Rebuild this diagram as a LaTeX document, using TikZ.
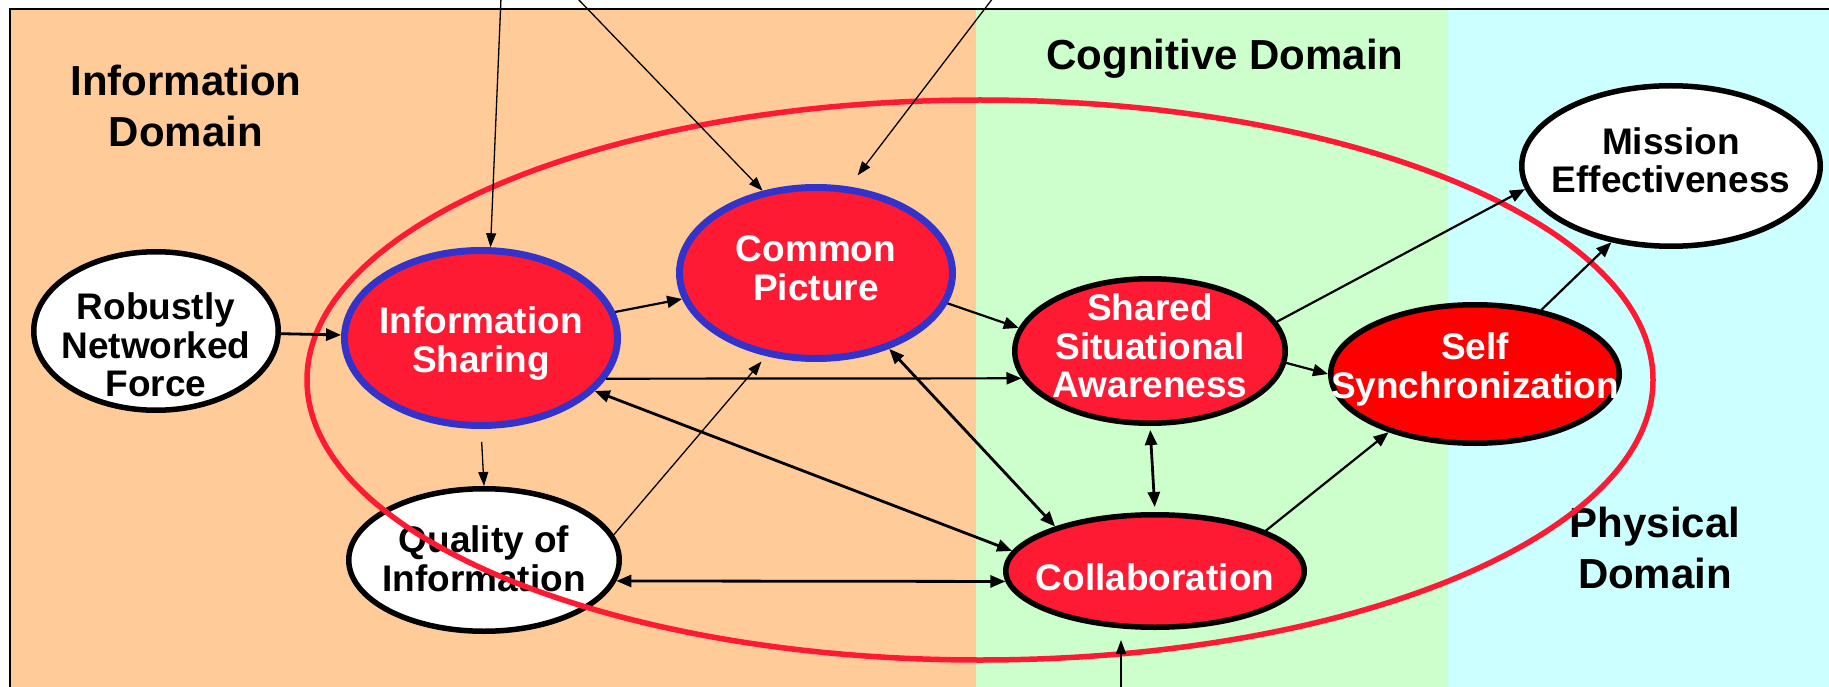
\documentclass[tikz,border=0pt]{standalone}
\usepackage{fontspec}
\setmainfont{Liberation Sans}
\usetikzlibrary{shapes.geometric, arrows.meta}

\definecolor{infoorange}{RGB}{255,204,153}
\definecolor{cogngreen}{RGB}{204,255,204}
\definecolor{physcyan}{RGB}{204,255,255}
\definecolor{nodered}{RGB}{255,26,51}
\definecolor{syncred}{RGB}{255,0,0}
\definecolor{ringblue}{RGB}{51,51,204}

% text of a node, kept out of the ellipse size: #1 = raise of last baseline
\newcommand{\nodetext}[2]{\raisebox{#1}[0pt][0pt]{\makebox[0pt]{\begin{tabular}[b]{@{}c@{}}#2\end{tabular}}}}

\tikzstyle{plainnode} = [ellipse, inner sep=0pt, draw=black, line width=5.5pt, fill=white, font=\bfseries\fontsize{37}{38}\selectfont]
\tikzstyle{corenode} = [ellipse, inner sep=0pt, draw=ringblue, line width=7pt, fill=nodered, text=white, font=\bfseries\fontsize{37}{38}\selectfont]
\tikzstyle{effectnode} = [ellipse, inner sep=0pt, draw=black, line width=5.5pt, fill=nodered, text=white, font=\bfseries\fontsize{37}{38}\selectfont]
\tikzstyle{domainlabel} = [align=center, inner sep=0pt, font=\bfseries\fontsize{42}{51}\selectfont]
\tikzstyle{redring} = [draw=nodered, line width=5.5pt]
\tikzstyle{arrow} = [line width=2.2pt,-{Triangle[length=15pt,width=12pt]}]
\tikzstyle{twoway} = [line width=2.8pt,{Triangle[length=15pt,width=12pt]}-{Triangle[length=15pt,width=12pt]}]
\tikzstyle{thinarrow} = [line width=1.3pt,-{Triangle[length=14pt,width=10pt]}]

\begin{document}
\begin{tikzpicture}[x=1pt, y=-1pt]
\useasboundingbox (0,0) rectangle (1829,687);

% Domains
\fill[infoorange] (10,9) rectangle (976,687);
\fill[cogngreen] (976,9) rectangle (1448,687);
\fill[physcyan] (1448,9) rectangle (1829,687);
\draw[line width=2pt] (10,687) -- (10,9) -- (1829,9);

\node (infodom) [domainlabel] at (186,106) {Information\\Domain};
\node (cogdom) [domainlabel, anchor=base] at (1225,70) {Cognitive Domain};
\node (physdom) [domainlabel] at (1655,548) {Physical\\Domain};

% Nodes
\node (robust) [plainnode, minimum width=244.5pt, minimum height=158.5pt] at (156,331) {\nodetext{-65pt}{Robustly\\Networked\\Force}};
\node (infoshare) [corenode, minimum width=273pt, minimum height=175pt] at (481,338) {\nodetext{-34pt}{Information\\Sharing}};
\node (common) [corenode, minimum width=273pt, minimum height=171pt] at (816,273) {\nodetext{-27pt}{Common\\Picture}};
\node (quality) [plainnode, minimum width=270.5pt, minimum height=142.5pt] at (484,560) {\nodetext{-31pt}{Quality of\\Information}};
\node (ssa) [effectnode, minimum width=270.5pt, minimum height=144.5pt] at (1150,351) {\nodetext{-46pt}{Shared\\Situational\\Awareness}};
\node (collab) [effectnode, minimum width=298.5pt, minimum height=112.5pt] at (1155,571) {\nodetext{-19pt}{Collaboration}};
\node (selfsync) [effectnode, fill=syncred, minimum width=288.5pt, minimum height=138.5pt] at (1475,374) {\nodetext{-24pt}{Self\\Synchronization}};
\node (mission) [plainnode, minimum width=298.5pt, minimum height=160.5pt] at (1671,166) {\nodetext{-27pt}{Mission\\Effectiveness}};

\draw[redring] (980,380) ellipse (673 and 280);

\coordinate (toplink1) at (501,-2);
\coordinate (toplink2) at (577,-2);
\coordinate (toplink3) at (993,-2);
\coordinate (botlink) at (1121,690);

% Arrows
\draw [twoway, -{Triangle[length=15pt,width=12pt]}] (robust) -- (infoshare);
\draw [arrow] (infoshare) -- (common);
\draw [arrow] (infoshare.-18) -- (ssa.192);
\draw [arrow] (common.-13) -- (ssa.170);
\draw [twoway] (infoshare.-25) -- (collab.172);
\draw [twoway] (common.-46) -- (collab.156);
\draw [thinarrow, shorten <=13pt] (infoshare.south) -- (quality.north);
\draw [thinarrow, shorten >=7pt] (quality.11) -- (common.239);
\draw [twoway] (quality.-9.5) -- (collab.184);
\draw [arrow] (ssa.-5) -- (selfsync.180);
\draw [twoway, shorten <=4pt, shorten >=5pt] (ssa.south) -- (collab.north);
\draw [arrow] (collab.20) -- (selfsync.214);
\draw [arrow] (ssa.13) -- (mission.189);
\draw [arrow] (selfsync.44) -- (mission.232);

\draw [thinarrow] (toplink1) -- (infoshare.84);
\draw [thinarrow] (toplink2) -- (common.123);
\draw [thinarrow, shorten >=14pt] (toplink3) -- (common.69);
\draw [thinarrow, shorten >=10pt] (botlink) -- (botlink |- collab.south);

\end{tikzpicture}
\end{document}
